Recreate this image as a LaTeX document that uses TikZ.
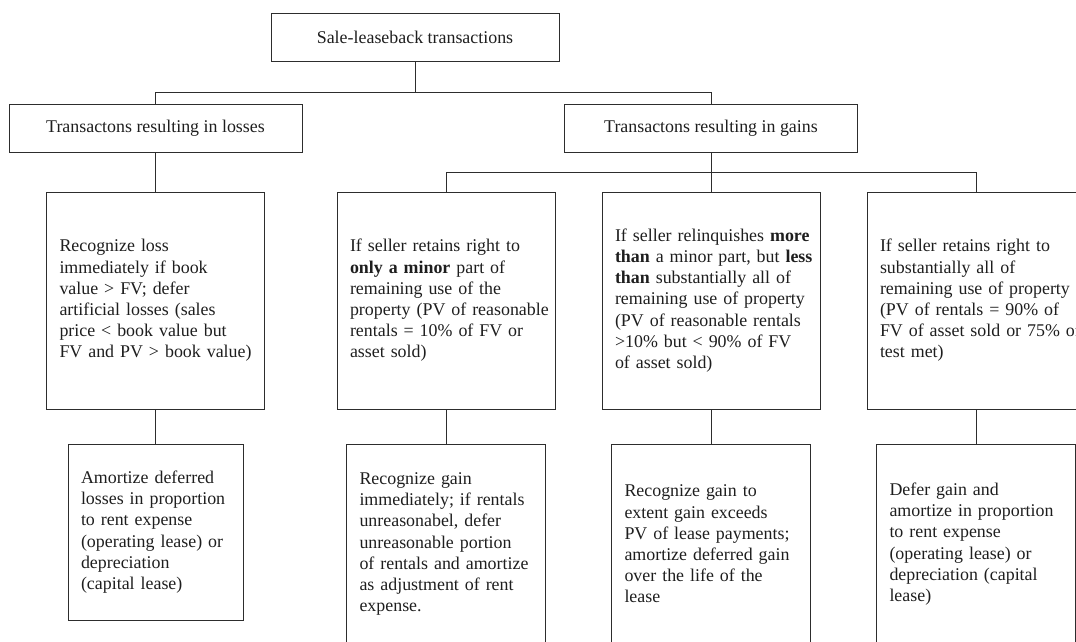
\documentclass[tikz,border=0pt]{standalone}
\usepackage{fontspec}
\setmainfont{Liberation Serif}
\usepackage{tikz}
\tikzstyle{chart} = [x = 1pt, y = -1pt]
\definecolor{lineColor}{RGB}{45,45,45}
\definecolor{textColor}{RGB}{30,30,30}
\newcommand{\chartFont}{\fontsize{17.9}{21.2}\selectfont}
\tikzstyle{boxStyle} = [draw=lineColor, line width=0.85pt, text=textColor, font=\chartFont, rectangle, inner ysep=0pt]
\tikzstyle{headBox} = [boxStyle, minimum height=48pt, align=center]
\tikzstyle{ruleBox} = [boxStyle, minimum height=217pt, inner xsep=13pt, text width=192pt, align=left]
\tikzstyle{lossNote} = [boxStyle, minimum height=176pt, inner xsep=13pt, text width=149pt, align=left]
\tikzstyle{gainNote} = [boxStyle, minimum height=200pt, inner xsep=13pt, text width=173pt, align=left]
\tikzstyle{link} = [draw=lineColor, line width=0.85pt]
\newcommand{\headNode}[4]{\node [headBox, minimum width = #4] (#1) at #2 {#3};}

\begin{document}
\begin{tikzpicture}[chart]
  \useasboundingbox (0,0) rectangle (1076,641);
  \clip (0,0) rectangle (1076,641);
  \coordinate (upperBus) at (0,92);
  \coordinate (lowerBus) at (0,172);

  % top of the tree
  \headNode{sale}{(415,37)}{Sale-leaseback transactions}{288pt}
  \headNode{losses}{(155.5,128.5)}{Transactons resulting in losses}{293pt}
  \headNode{gains}{(711,128.5)}{Transactons resulting in gains}{293pt}

  % conditions
  \node [ruleBox] (lossRule) at (155.5,300.5) {Recognize loss\\ immediately if book\\ value > FV; defer\\ artificial losses (sales\\ price < book value but\\ \mbox{FV and PV > book value)}};
  \node [ruleBox] (minor) at (446,300.5) {If seller retains right to\\ \textbf{only a minor} part of\\ remaining use of the\\ \mbox{property (PV of reasonable}\\ rentals = 10\% of FV or\\ asset sold)};
  \node [ruleBox] (partial) at (711,300.5) {\mbox{If seller relinquishes \textbf{more}}\\ \mbox{\textbf{than} a minor part, but \textbf{less}}\\ \textbf{than} substantially all of\\ \mbox{remaining use of property}\\ \mbox{(PV of reasonable rentals}\\ >10\% but < 90\% of FV\\ of asset sold)};
  \node [ruleBox] (allRule) at (976,300.5) {If seller retains right to\\ substantially all of\\ \mbox{remaining use of property}\\ (PV of rentals = 90\% of\\ \mbox{FV of asset sold or 75\% of}\\ test met)};

  % accounting treatment
  \node [lossNote] (lossAcct) at (155.5,532) {Amortize deferred\\ losses in proportion\\ to rent expense\\ (operating lease) or\\ depreciation\\ (capital lease)};
  \node [gainNote] (minorAcct) at (446,544) {Recognize gain\\ immediately; if rentals\\ unreasonabel, defer\\ unreasonable portion\\ \mbox{of rentals and amortize}\\ as adjustment of rent\\ expense.};
  \node [gainNote] (partialAcct) at (711,544) {Recognize gain to\\ extent gain exceeds\\ PV of lease payments;\\ \mbox{amortize deferred gain}\\ over the life of the\\ lease};
  \node [gainNote] (allAcct) at (976,544) {Defer gain and\\ \mbox{amortize in proportion}\\ to rent expense\\ (operating lease) or\\ depreciation (capital\\ lease)};

  \draw [link] (sale.south) -- (sale.south |- upperBus);
  \draw [link] (losses.north) |- (upperBus -| gains.north) -- (gains.north);
  \draw [link] (losses.south) -- (lossRule.north);
  \draw [link] (gains.south) -- (partial.north);
  \draw [link] (minor.north) |- (lowerBus -| allRule.north) -- (allRule.north);
  \foreach \upper/\lower in {lossRule/lossAcct, minor/minorAcct, partial/partialAcct, allRule/allAcct}
    \draw [link] (\upper.south) -- (\lower.north);
\end{tikzpicture}
\end{document}
